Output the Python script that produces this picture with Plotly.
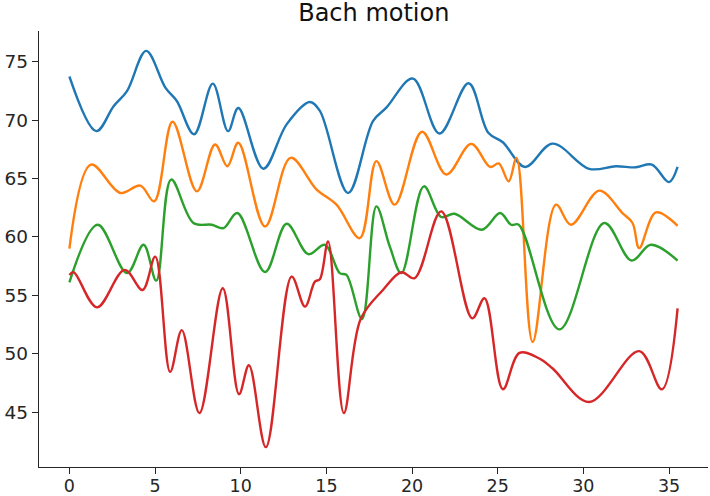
import plotly.graph_objects as go

# values (beat position, pitch-like value)
soprano_x = [0, 1.57, 2.58, 3.36, 4.48, 5.6, 6.27, 7.28, 8.37, 9.26, 9.86, 11.32,
             12.68, 14.03, 14.62, 16.27, 17.72, 18.5, 20.05, 21.6, 23.3, 24.45,
             25.3, 26.6, 28.2, 30.34, 31.9, 33.06, 34.0, 35.0, 35.5]
soprano_y = [73.75, 69.07, 71.2, 72.5, 75.95, 72.8, 71.65, 68.8, 73.14, 69.07, 71.05, 65.85,
             69.65, 71.56, 70.8, 63.77, 69.93, 71.08, 73.57, 68.87, 73.17, 68.93,
             68.12, 66.0, 68.0, 65.84, 66.06, 65.97, 66.2, 64.7, 66.0]

alto_x = [0, 1.26, 2.97, 4.14, 4.95, 6.02, 7.44, 8.5, 9.22, 9.86, 11.42,
          12.91, 14.43, 15.59, 16.95, 17.92, 18.99, 20.58, 22.0, 23.45, 24.56,
          25.06, 25.64, 26.1, 27.04, 28.4, 29.28, 30.93, 32.28, 32.87, 33.26,
          34.23, 35.5]
alto_y = [59.0, 66.2, 63.77, 64.4, 63.05, 69.88, 63.91, 67.93, 66.06, 68.07, 60.9,
          66.78, 64.06, 62.77, 59.9, 66.5, 62.77, 69.02, 65.35, 67.98, 66.0,
          66.3, 64.77, 66.78, 51.0, 62.77, 61.05, 63.97, 62.05, 61.2, 59.05,
          62.1, 60.96]

tenor_x = [0, 1.65, 3.36, 4.33, 5.07, 5.94, 7.24, 8.31, 8.99, 9.8, 11.42,
           12.68, 13.94, 14.91, 15.78, 16.17, 17.08, 17.92, 18.7, 19.38, 20.69,
           21.7, 22.48, 24.08, 25.14, 25.78, 26.23, 28.6, 31.22, 32.81, 33.94, 35.5]
tenor_y = [56.12, 61.05, 56.9, 59.33, 56.26, 64.92, 61.2, 61.05, 60.76, 62.05, 57.0,
           61.13, 58.53, 59.33, 56.9, 56.75, 52.97, 62.62, 59.18, 56.9, 64.34,
           61.71, 61.99, 60.62, 62.05, 61.05, 61.05, 52.08, 61.2, 57.98, 59.33, 57.98]

bass_x = [0, 0.25, 1.61, 3.22, 4.27, 5.01, 5.88, 6.56, 7.59, 8.95, 9.9, 10.48, 11.47,
          12.97, 13.75, 14.33, 14.62, 15.1, 16.02, 17.0, 18.3, 19.38, 20.15, 21.7,
          23.51, 24.23, 25.3, 26.27, 27.43, 28.21, 30.34, 33.26, 34.58, 35.5]
bass_y = [56.75, 56.98, 53.97, 57.18, 55.46, 58.32, 48.44, 52.02, 44.91, 55.61, 46.52, 49.01, 41.99,
          56.6, 54.03, 56.17, 56.38, 59.61, 44.91, 52.97, 55.46, 56.98, 56.47, 62.19,
          53.03, 54.75, 46.95, 50.07, 49.59, 48.73, 45.86, 50.22, 46.95, 53.89]

series = [
    ("Soprano", soprano_x, soprano_y, "#1f77b4"),
    ("Alto", alto_x, alto_y, "#ff7f0e"),
    ("Tenor", tenor_x, tenor_y, "#2ca02c"),
    ("Bass", bass_x, bass_y, "#d62728"),
]

fig = go.Figure()
for name, xs, ys, color in series:
    fig.add_trace(go.Scatter(x=xs, y=ys, name=name, mode="lines",
                             line=dict(color=color, width=2.4, shape="spline", smoothing=1.0)))

axis_style = dict(showgrid=False, zeroline=False, showline=True, linecolor="#262626",
                  linewidth=1.4, ticks="outside", ticklen=6, tickwidth=1.4,
                  tickcolor="#262626", automargin=False)

fig.update_layout(
    width=710, height=496,
    template="plotly_white",
    showlegend=False,
    font=dict(family="DejaVu Sans", color="#262626"),
    title=dict(text="Bach motion", x=0.5265, xanchor="center", y=0.975, yanchor="middle",
               font=dict(size=24, color="#111111")),
    margin=dict(l=39, r=2, t=31, b=29),
    plot_bgcolor="white", paper_bgcolor="white",
    xaxis=dict(range=[-1.775, 37.275], tickvals=[0, 5, 10, 15, 20, 25, 30, 35],
               tickfont=dict(size=17.5, color="#262626"), ticklabelstandoff=-3, **axis_style),
    yaxis=dict(range=[40.29, 77.65], tickvals=[45, 50, 55, 60, 65, 70, 75],
               tickfont=dict(size=18.5, color="#262626"), **axis_style),
)

# the page body has a default 8px margin; drop it so the figure fills the window
fig.write_html("out.html", config={"displayModeBar": False},
               post_script="document.body.style.margin = '0';")
